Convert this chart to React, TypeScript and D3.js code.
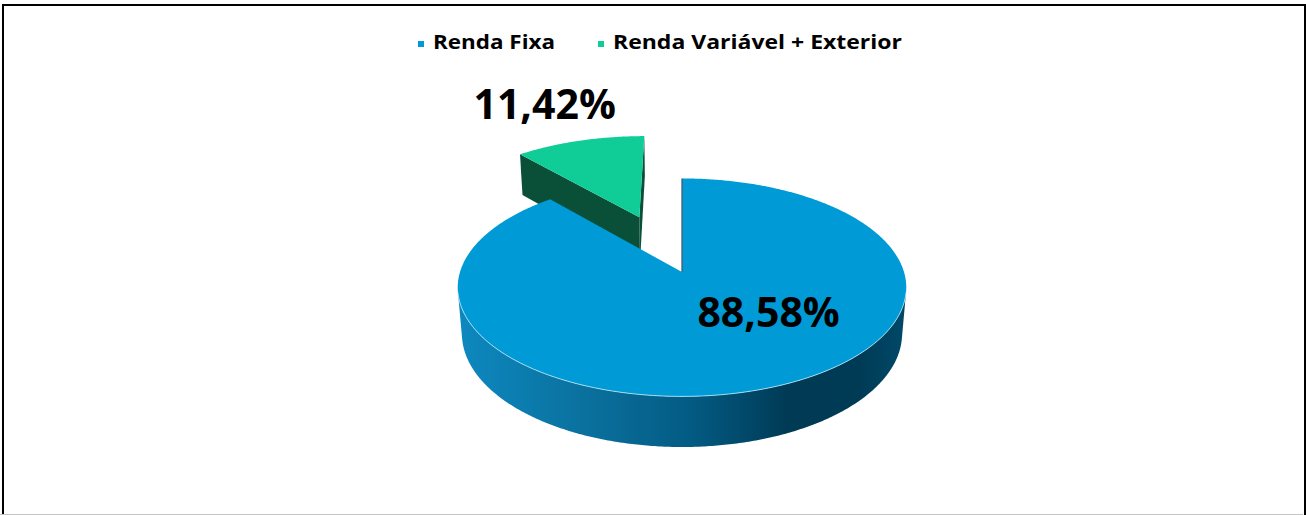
import React from "react";
import * as d3 from "d3";

// ---- data ----
const categories: string[] = ["Renda Fixa", "Renda Variável + Exterior"];
const values: number[] = [88.58, 11.42];
const valueLabels: string[] = ["88,58%", "11,42%"];
const exploded: boolean[] = [false, true];

// ---- styles ----
const W = 1306;
const Hgt = 515;
const topColors = ["#009bd6", "#10cd98"];
const sideColors = ["#0a6e9c", "#0a5039"];
const legendColors = ["#009bd6", "#10cd98"];
const FONT = "'Open Sans', 'Noto Sans', 'DejaVu Sans', sans-serif";

// 3D projection parameters (pie radius = 1 in world units)
const CX = 682;
const CY = 272;
const K = 222;
const SIN_A = 0.481;
const ALPHA = Math.asin(SIN_A);
const COS_A = Math.cos(ALPHA);
const DIST = 6.19;
const THICK = 0.24;
const EXPLODE = 0.59;

function proj(u: number, v: number, h: number): [number, number] {
  const depth = v * COS_A + h * Math.sin(ALPHA);
  const s = DIST / (DIST - depth);
  return [CX + K * s * u, CY + K * s * (v * SIN_A - h * COS_A)];
}
function rimPt(theta: number, r: number, h: number, off: [number, number]): [number, number] {
  return proj(off[0] + r * Math.sin(theta), off[1] - r * Math.cos(theta), h);
}
function arcPts(a0: number, a1: number, h: number, off: [number, number]): [number, number][] {
  const n = Math.max(2, Math.ceil(Math.abs(a1 - a0) / 0.01));
  const pts: [number, number][] = [];
  for (let i = 0; i <= n; i++) {
    const t = a0 + ((a1 - a0) * i) / n;
    pts.push(rimPt(t, 1, h, off));
  }
  return pts;
}
function poly(pts: [number, number][]): string {
  return "M" + pts.map((p) => p[0].toFixed(2) + "," + p[1].toFixed(2)).join("L") + "Z";
}
function line(pts: [number, number][]): string {
  return "M" + pts.map((p) => p[0].toFixed(2) + "," + p[1].toFixed(2)).join("L");
}

export default function App() {
  const arcs = d3.pie<number>().sort(null).startAngle(0).endAngle(2 * Math.PI)(values);

  // silhouette of the outer wall (visible where cos(theta) < -1/(D cos a))
  const silA = Math.acos(-1 / (DIST * COS_A));
  const silB = 2 * Math.PI - silA;

  const slices = arcs.map((a, i) => {
    const mid = (a.startAngle + a.endAngle) / 2;
    const off: [number, number] = exploded[i]
      ? [EXPLODE * Math.sin(mid), -EXPLODE * Math.cos(mid)]
      : [0, 0];
    return { a, i, mid, off };
  });

  const main = slices[0];
  const green = slices[1];

  // green slice faces
  const gOff = green.off;
  const gTop = poly([proj(gOff[0], gOff[1], 0), ...arcPts(green.a.startAngle, green.a.endAngle, 0, gOff)]);
  const gLeftFace = poly([
    proj(gOff[0], gOff[1], 0),
    rimPt(green.a.startAngle, 1, 0, gOff),
    rimPt(green.a.startAngle, 1, -THICK, gOff),
    proj(gOff[0], gOff[1], -THICK),
  ]);
  const gRightFace = poly([
    proj(gOff[0], gOff[1], 0),
    rimPt(green.a.endAngle, 1, 0, gOff),
    rimPt(green.a.endAngle, 1, -THICK, gOff),
    proj(gOff[0], gOff[1], -THICK),
  ]);

  // main slice
  const wa0 = Math.max(main.a.startAngle, silA);
  const wa1 = Math.min(main.a.endAngle, silB);
  const wallTop = arcPts(wa0, wa1, 0, main.off);
  const wallBot = arcPts(wa0, wa1, -THICK, main.off).reverse();
  const mWall = poly([...wallTop, ...wallBot]);
  const mTop = poly([proj(0, 0, 0), ...arcPts(main.a.startAngle, main.a.endAngle, 0, main.off)]);
  const mEdge = line([proj(0, 0, 0), rimPt(main.a.startAngle, 1, 0, main.off)]);
  const rimHighlight = line(wallTop);

  // labels
  const mainLbl = rimPt(2.35, 0.52, 0, main.off);
  const greenLbl = rimPt(green.mid, 1, 0, gOff);

  const legendX = [418, 598];

  return (
    <svg
      width={W}
      height={Hgt}
      style={{ position: "absolute", left: 0, top: 0 }}
      xmlns="http://www.w3.org/2000/svg"
    >
      <defs>
        <linearGradient id="wallGrad" gradientUnits="userSpaceOnUse" x1={CX - K} y1={0} x2={CX + K} y2={0}>
          <stop offset="0" stopColor="#0d88bf" />
          <stop offset="0.3" stopColor="#0a6f9c" />
          <stop offset="0.52" stopColor="#035b83" />
          <stop offset="0.74" stopColor="#003a55" />
          <stop offset="0.9" stopColor="#003b56" />
          <stop offset="1" stopColor="#004868" />
        </linearGradient>
      </defs>
      <rect x={0} y={0} width={W} height={Hgt} fill="#ffffff" />
      <rect x={3} y={5} width={1302} height={513} fill="none" stroke="#000" strokeWidth={2} />
      <line x1={0} y1={514.5} x2={1303} y2={514.5} stroke="#c4c4c4" strokeWidth={1} />

      {/* legend */}
      {categories.map((c, i) => (
        <g key={c}>
          <rect x={legendX[i]} y={41} width={6} height={6} fill={legendColors[i]} />
          <text
            x={legendX[i] + 15}
            y={49}
            fontFamily={FONT}
            fontWeight={700}
            fontSize={20}
            fill="#000"
            textLength={i === 0 ? 122 : 289}
            lengthAdjust="spacingAndGlyphs"
          >
            {c}
          </text>
        </g>
      ))}

      {/* exploded slice (behind) */}
      <path d={gRightFace} fill={sideColors[1]} />
      <path d={gLeftFace} fill={sideColors[1]} />
      <path d={gTop} fill={topColors[1]} />

      {/* main slice */}
      <path d={mWall} fill="url(#wallGrad)" />
      <path d={mTop} fill={topColors[0]} />
      <path d={rimHighlight} fill="none" stroke="#b8e6f6" strokeWidth={1} opacity={0.85} />
      <path d={mEdge} fill="none" stroke="#3e5f73" strokeWidth={1.3} />

      {/* value labels */}
      <text
        x={mainLbl[0]}
        y={mainLbl[1] + 14}
        textAnchor="middle"
        fontFamily={FONT}
        fontWeight={700}
        fontSize={41}
        fill="#000"
      >
        {valueLabels[0]}
      </text>
      <text
        x={greenLbl[0] - 35}
        y={greenLbl[1] - 22}
        textAnchor="middle"
        fontFamily={FONT}
        fontWeight={700}
        fontSize={41}
        fill="#000"
      >
        {valueLabels[1]}
      </text>
    </svg>
  );
}
